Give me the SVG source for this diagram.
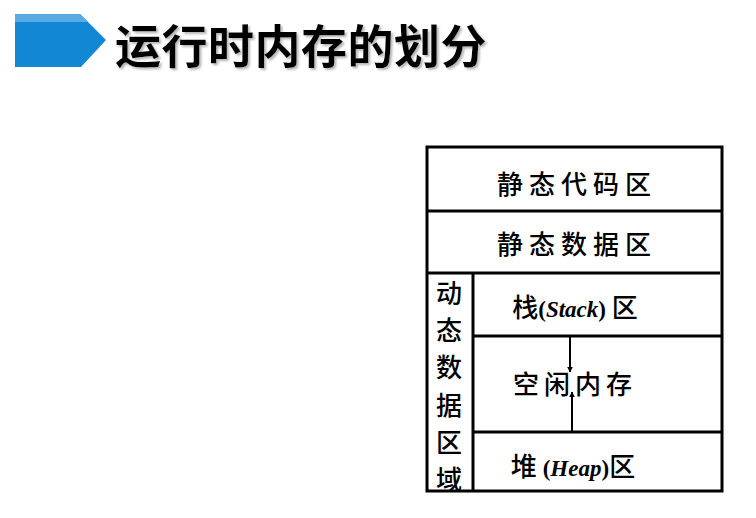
<svg xmlns="http://www.w3.org/2000/svg" width="756" height="518" viewBox="0 0 756 518">
<style>
.ln{stroke:#000;stroke-width:3;fill:none}
.cj{font-family:"Noto Sans CJK SC","Noto Sans CJK JP",sans-serif;font-size:26px;font-weight:500;fill:#000;text-anchor:middle}
.en{font-family:"Liberation Serif",serif;font-weight:bold;font-style:italic}
.br{font-family:"Liberation Serif",serif;font-weight:bold}
</style>
<defs>
<marker id="ah" viewBox="0 0 10 10" refX="9" refY="5" markerWidth="6" markerHeight="8" orient="auto" markerUnits="userSpaceOnUse"><path d="M0,0 L10,5 L0,10 Z" fill="#000"/></marker>
<filter id="sh" x="-5%" y="-20%" width="110%" height="140%"><feDropShadow dx="2" dy="2" stdDeviation="0.8" flood-color="#999" flood-opacity="0.7"/></filter>
</defs>
<rect width="756" height="518" fill="#fff"/>
<g id="banner">
<polygon points="15,14 80,14 106,40 81,67 15,67" fill="#1287d4"/>
<polygon points="15,14 80,14 88,22 15,22" fill="#5aaae3"/>
<text x="115" y="63" font-family="Noto Sans CJK SC,sans-serif" font-weight="bold" font-size="46" letter-spacing="0.5" fill="#000" filter="url(#sh)">运行时内存的划分</text>
</g>
<g id="frame">
<rect x="427" y="147" width="295" height="344" class="ln"/>
<line x1="427" y1="211" x2="722" y2="211" class="ln" stroke-width="4"/>
<line x1="427" y1="273" x2="720" y2="273" class="ln" stroke-width="4"/>
<line x1="473" y1="273" x2="473" y2="491" class="ln"/>
<line x1="473" y1="336" x2="722" y2="336" class="ln"/>
<line x1="473" y1="432" x2="722" y2="432" class="ln" stroke-width="3.5"/>
</g>
<g id="static-code"><text x="577" y="194" class="cj" letter-spacing="6">静态代码区</text></g>
<g id="static-data"><text x="577" y="254" class="cj" letter-spacing="6">静态数据区</text></g>
<g id="dynamic" class="cj">
<text x="449" y="303">动</text>
<text x="449" y="340">态</text>
<text x="449" y="377">数</text>
<text x="449" y="415">据</text>
<text x="449" y="452">区</text>
<text x="449" y="489">域</text>
</g>
<g id="stack"><text x="575" y="317" class="cj">栈<tspan class="br" font-size="23">(</tspan><tspan class="en" font-size="23">Stack</tspan><tspan class="br" font-size="23">)</tspan> 区</text></g>
<g id="free"><text x="575" y="394" class="cj" letter-spacing="5">空闲内存</text></g>
<g id="heap"><text x="573" y="476" class="cj">堆 <tspan class="br" font-size="23">(</tspan><tspan class="en" font-size="23">Heap</tspan><tspan class="br" font-size="23">)</tspan>区</text></g>
<g id="connectors">
<line x1="570" y1="337" x2="570" y2="372" stroke="#000" stroke-width="2" marker-end="url(#ah)"/>
<line x1="572" y1="431" x2="572" y2="392" stroke="#000" stroke-width="2" marker-end="url(#ah)"/>
</g>
</svg>
